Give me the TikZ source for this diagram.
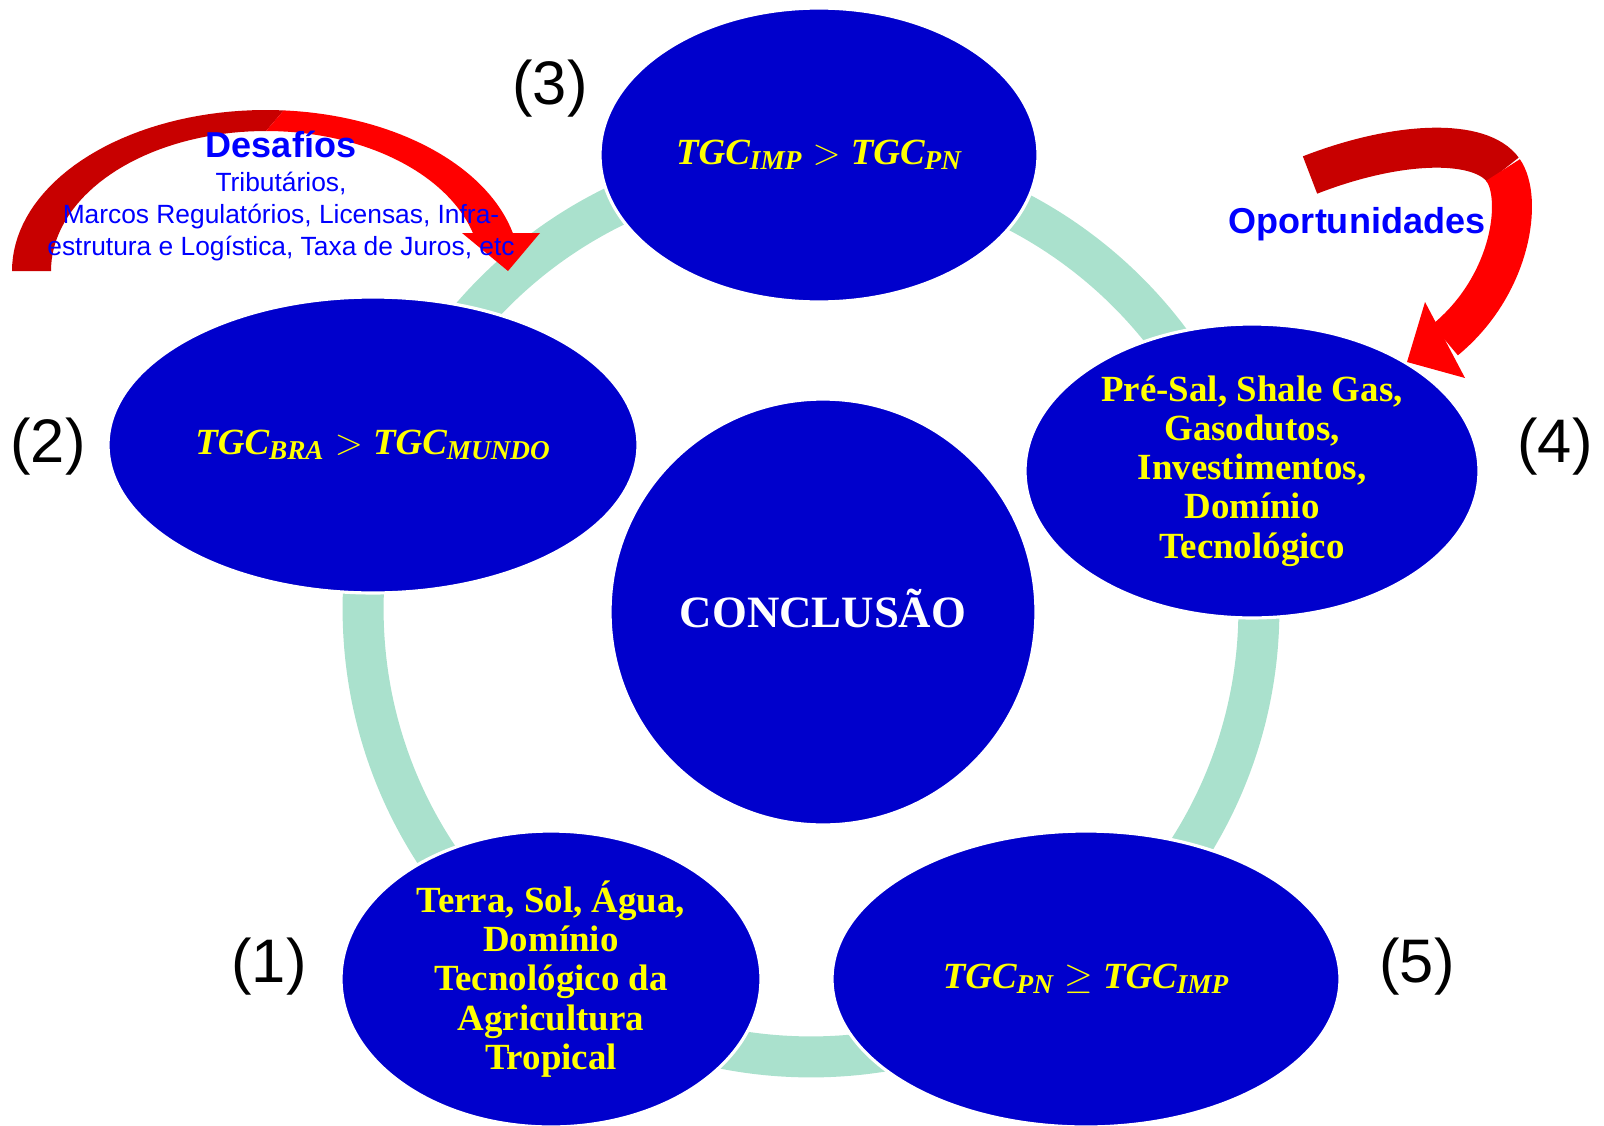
\RequirePackage{fix-cm}
\documentclass[tikz,border=0pt]{standalone}
\usepackage{amsmath}
\usepackage{fontspec}
\setmainfont{Liberation Serif}
\setsansfont{Liberation Sans}
\usepackage{xcolor}
\usepackage{tikz}
\usetikzlibrary{shapes,arrows,positioning,calc,shapes.geometric}

\definecolor{bubbleblue}{RGB}{0,0,204}
\definecolor{ringgreen}{RGB}{170,225,205}
\definecolor{darkred}{RGB}{200,0,0}
\definecolor{brightred}{RGB}{255,0,0}
\definecolor{noteblue}{RGB}{0,0,255}
\definecolor{bubbleyellow}{RGB}{255,255,0}

\newcommand{\tgc}[1]{\text{\itshape TGC}_{\text{\fontsize{15.5}{16}\selectfont\itshape #1}}}

\begin{document}
\begin{tikzpicture}[x=0.02cm, y=-0.02cm]
    \tikzstyle{bubble} = [ellipse, fill=bubbleblue, draw=white, line width=1.8pt, inner sep=0pt, text=bubbleyellow, font=\fontsize{21}{22.3}\selectfont\bfseries, align=center]
    \tikzstyle{num} = [font=\sffamily\fontsize{35}{40}\selectfont]
    \tikzstyle{note} = [text=noteblue, align=center, inner sep=0pt]
    \useasboundingbox (0,0) rectangle (1604,1125);

    % Ring
    \draw [ringgreen, line width=0.82cm] (811,609) circle (8.96cm);

    % Nodes
    \node [bubble, minimum width=8.76cm, minimum height=5.88cm] (tgcimp) at (819,155) {$\tgc{IMP} > \tgc{PN}$};
    \node [bubble, minimum width=10.6cm, minimum height=5.92cm] (tgcbra) at (373,445) {$\tgc{BRA} > \tgc{MUNDO}$};
    \node [bubble, minimum width=9.08cm, minimum height=5.88cm] (presal) at (1252,471) {Pré-Sal, Shale Gas,\\Gasodutos,\\Investimentos,\\Domínio\\Tecnológico};
    \node [bubble, minimum width=8.4cm, minimum height=5.92cm] (terra) at (551,979) {Terra, Sol, Água,\\Domínio\\Tecnológico da\\Agricultura\\Tropical};
    \node [bubble, minimum width=10.16cm, minimum height=5.92cm] (tgcpn) at (1086,979) {$\tgc{PN} \geq \tgc{IMP}$};
    \node [bubble, circle, minimum size=8.52cm] (conclusao) at (823,612) {};
    \node [anchor=base, text=white, font=\fontsize{25.5}{30}\selectfont\bfseries] (conclusaotext) at (823,627) {CONCLUSÃO};

    % Numbers
    \node [num] (n1) at (269,967) {(1)};
    \node [num] (n2) at (48,447) {(2)};
    \node [num] (n3) at (550,89) {(3)};
    \node [num] (n4) at (1555,447) {(4)};
    \node [num] (n5) at (1417,967) {(5)};

    % Desafios arrow
    \fill [darkred] plot [domain=180:86, samples=40] ({266+254*cos(\x)}, {271-161*sin(\x)}) -- plot [domain=90:180, samples=40] ({266+215*cos(\x)}, {271-140*sin(\x)}) -- cycle;
    \fill [brightred] plot [domain=86:13.65, samples=40] ({266+254*cos(\x)}, {271-161*sin(\x)}) -- plot [domain=15.75:90, samples=40] ({266+215*cos(\x)}, {271-140*sin(\x)}) -- cycle;
    \fill [brightred] (462,233) -- (540,233) -- (508,271) -- cycle;

    % Oportunidades arrow
    \draw [darkred, line width=0.8cm] (1310,175) .. controls (1400,140) and (1481,139) .. (1503,170);
    \draw [brightred, line width=0.8cm] (1503,170) .. controls (1523,198) and (1512,285) .. (1445,340);
    \fill [brightred] (1425,302) -- (1465,378) -- (1407,362) -- cycle;

    % Side notes
    \node [note, font=\sffamily\bfseries\fontsize{20.5}{24}\selectfont] (desafios) at (281,144) {Desafíos};
    \node [note, font=\sffamily\fontsize{15}{18.2}\selectfont] (desafiosbody) at (281,217) {Tributários,\\Marcos Regulatórios, Licensas, Infra-\\estrutura e Logística, Taxa de Juros, etc};
    \node [note, font=\sffamily\bfseries\fontsize{20.5}{24}\selectfont] (oportunidades) at (1357,224) {Oportunidades};
\end{tikzpicture}
\end{document}
